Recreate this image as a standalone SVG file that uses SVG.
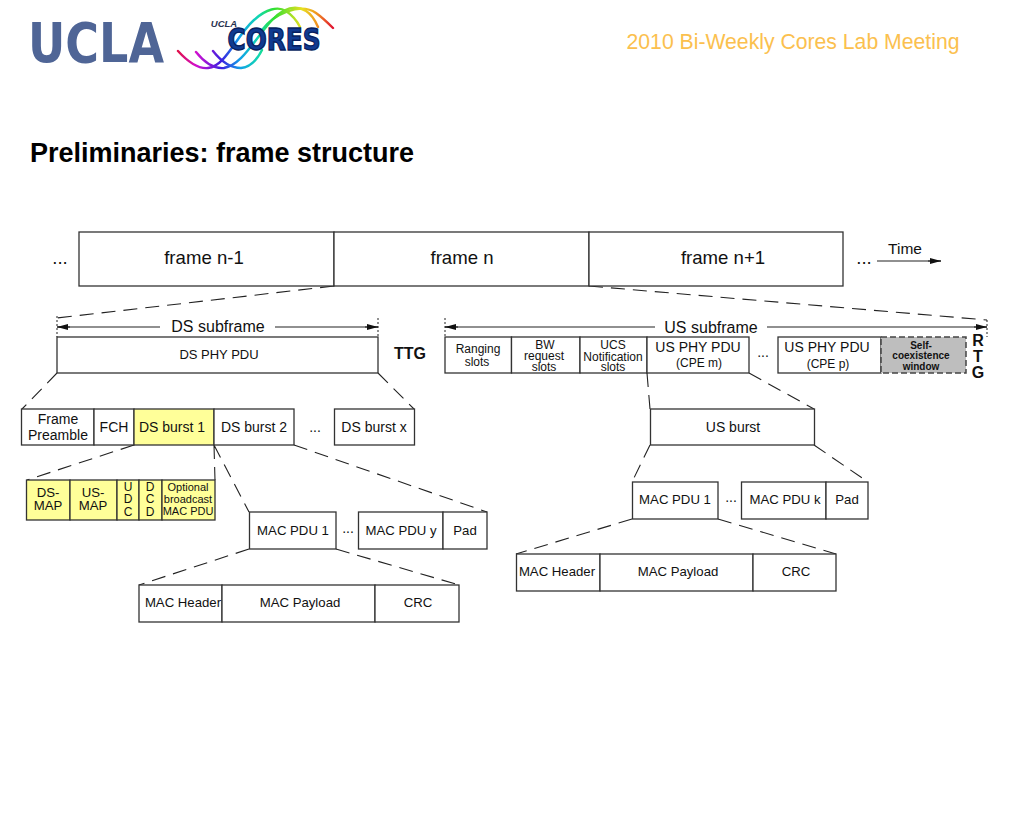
<svg xmlns="http://www.w3.org/2000/svg" width="1024" height="819" viewBox="0 0 1024 819">
<style>
text{font-family:"Liberation Sans",Arial,sans-serif;fill:#111;text-anchor:middle}
.b{fill:#fff;stroke:#333;stroke-width:1.3}
.y{fill:#ffff99;stroke:#333;stroke-width:1.3}
.g{fill:#bebebe;stroke:#444;stroke-width:1.5;stroke-dasharray:6 3}
.d{stroke:#222;stroke-width:1.1;stroke-dasharray:14 8;fill:none}
.t{stroke:#222;stroke-width:1;stroke-dasharray:2 2;fill:none}
.a{stroke:#222;stroke-width:1.1;fill:none}
.w{fill:none;stroke:url(#rb);stroke-width:2.4;stroke-linecap:round}
.s12{font-size:12px}.s13{font-size:13.200px}.s14{font-size:14px}.s16{font-size:16px}.s18{font-size:18.600px}.s11{font-size:11px}
.k{font-weight:bold}
</style>
<defs>
<marker id="e" markerWidth="12" markerHeight="8" refX="11" refY="4" orient="auto-start-reverse" markerUnits="userSpaceOnUse"><path d="M0 1L11 4L0 7Z" fill="#111"/></marker>
<linearGradient id="rb" gradientUnits="userSpaceOnUse" x1="178" x2="333" y1="0" y2="0"><stop offset="0" stop-color="#e0104a"/><stop offset=".12" stop-color="#d010d0"/><stop offset=".28" stop-color="#3a20e0"/><stop offset=".4" stop-color="#10a0e8"/><stop offset=".52" stop-color="#10d8b0"/><stop offset=".62" stop-color="#30e030"/><stop offset=".8" stop-color="#e8e020"/><stop offset=".9" stop-color="#f09020"/><stop offset="1" stop-color="#e01030"/></linearGradient>
</defs>
<g id="logos">
<text x="96" y="62" font-size="56" font-weight="bold" textLength="136" lengthAdjust="spacingAndGlyphs" style="fill:#4f6596;font-family:'DejaVu Sans',sans-serif">UCLA</text>
<path class="w" d="M178 51C188 62 198 69 208 68C226 66 236 36 254 20C266 9 278 6 286 11C292 15 297 21 300 27"/>
<path class="w" d="M196 52C204 62 214 69 224 68C242 65 254 40 272 20C284 8 296 5 306 11C311 14 315 20 318 27"/>
<path class="w" d="M213 51C220 60 230 68 241 68C252 67 258 58 262 50M262 30C274 14 300 2 316 13C323 18 329 24 333 28"/>
<text x="224" y="27" font-size="9.500" font-weight="bold" font-style="italic" style="fill:#2a3350">UCLA</text>
<text x="274" y="50" font-size="30" font-weight="bold" textLength="93" lengthAdjust="spacingAndGlyphs" style="fill:#0f3a90;stroke:#071f60;stroke-width:1.400;font-family:'DejaVu Sans',sans-serif">CORES</text>
</g>
<text id="meeting" x="793" y="49" font-size="21.200" style="fill:#fbc04e">2010 Bi-Weekly Cores Lab Meeting</text>
<text id="title" x="222" y="162" font-size="27" font-weight="bold" style="fill:#000">Preliminaries: frame structure</text>

<g id="connectors">
<path class="d" d="M334 286L57 318M589 286L987 320M57 373L22 409M378 373L414 409M134 445L27 480M214 445L215 480M214 445L249 512M294 445L487 512M249 549L139 585M336 549L459 585M647 373L650 409M749 373L814 409M650 445L632 482M814 445L868 482M632 519L516 554M718 519L836 554"/>
<path class="t" d="M57 316V337M378 318V337M445 318V337M987 320V337"/>
<path class="a" d="M57 327H160M275 327H378M445 327H655M767 327H987M877 261H941" />
<path class="a" marker-start="url(#e)" d="M57 327H70"/>
<path class="a" marker-end="url(#e)" d="M365 327H378"/>
<path class="a" marker-start="url(#e)" d="M445 327H458"/>
<path class="a" marker-end="url(#e)" d="M974 327H987"/>
<path class="a" marker-end="url(#e)" d="M928 261H941"/>
</g>

<g id="frames">
<rect class="b" x="79" y="232" width="255" height="54"/><rect class="b" x="334" y="232" width="255" height="54"/><rect class="b" x="589" y="232" width="254" height="54"/>
<text class="s18" x="204" y="264">frame n-1</text><text class="s18" x="462" y="264">frame n</text><text class="s18" x="723" y="264">frame n+1</text>
<text class="s18" x="60" y="264">...</text><text class="s18" x="864" y="264">...</text>
<text x="905" y="254" font-size="15.500">Time</text>
</g>
<g id="ds-subframe">
<text class="s16" x="218" y="332">DS subframe</text>
<rect class="b" x="57" y="337" width="321" height="36"/>
<text x="219" y="359" font-size="13">DS PHY PDU</text>
<text class="k s16" x="410" y="359">TTG</text>
</g>
<g id="ds-row">
<rect class="b" x="21.500" y="409" width="72.500" height="36"/><rect class="b" x="94" y="409" width="40" height="36"/><rect class="y" x="134" y="409" width="80" height="36"/><rect class="b" x="214" y="409" width="80" height="36"/><rect class="b" x="334.500" y="409" width="80" height="36"/>
<text class="s14" x="58" y="424">Frame</text><text class="s14" x="58" y="440">Preamble</text>
<text class="s14" x="114" y="432">FCH</text><text class="s14" x="172" y="432">DS burst 1</text><text class="s14" x="254" y="432">DS burst 2</text><text class="s14" x="315" y="432">...</text><text class="s14" x="374" y="432">DS burst x</text>
</g>
<g id="ds-map">
<rect class="y" x="26.500" y="480" width="43.500" height="40"/><rect class="y" x="70" y="480" width="47" height="40"/><rect class="y" x="117" y="480" width="22" height="40"/><rect class="y" x="139" y="480" width="23" height="40"/><rect class="y" x="162" y="480" width="53" height="40"/>
<text class="s13" x="48" y="497">DS-</text><text class="s13" x="48" y="510">MAP</text>
<text class="s13" x="93" y="497">US-</text><text class="s13" x="93" y="510">MAP</text>
<text class="s12" x="128" y="491">U</text><text class="s12" x="128" y="503">D</text><text class="s12" x="128" y="516">C</text>
<text class="s12" x="150" y="491">D</text><text class="s12" x="150" y="503">C</text><text class="s12" x="150" y="516">D</text>
<text class="s11" x="188" y="491">Optional</text><text class="s11" x="188" y="503">broadcast</text><text class="s11" x="188" y="515">MAC PDU</text>
</g>
<g id="ds-mac">
<rect class="b" x="249.500" y="512" width="86.500" height="37"/><rect class="b" x="358.500" y="512" width="84.500" height="37"/><rect class="b" x="443" y="512" width="44" height="37"/>
<text class="s13" x="293" y="535">MAC PDU 1</text><text class="s14" x="348" y="533">...</text><text class="s13" x="401" y="535">MAC PDU y</text><text class="s13" x="465" y="535">Pad</text>
<rect class="b" x="139" y="585" width="83" height="37"/><rect class="b" x="222" y="585" width="153" height="37"/><rect class="b" x="375" y="585" width="84" height="37"/>
<text class="s13" x="183" y="607">MAC Header</text><text class="s13" x="300" y="607">MAC Payload</text><text class="s13" x="418" y="607">CRC</text>
</g>
<g id="us-subframe">
<text class="s16" x="711" y="333">US subframe</text>
<rect class="b" x="445" y="337" width="66.500" height="36"/><rect class="b" x="511.500" y="337" width="68.500" height="36"/><rect class="b" x="580" y="337" width="67" height="36"/><rect class="b" x="647" y="337" width="102" height="36"/><rect class="b" x="778" y="337" width="103" height="36"/><rect class="g" x="881" y="337" width="85" height="36"/>
<text class="s12" x="478" y="353">Ranging</text><text class="s12" x="477" y="366">slots</text>
<text class="s12" x="545" y="349">BW</text><text class="s12" x="544" y="360">request</text><text class="s12" x="544" y="371">slots</text>
<text class="s12" x="613" y="349">UCS</text><text class="s12" x="613" y="361">Notification</text><text class="s12" x="613" y="371">slots</text>
<text class="s14" x="698" y="352">US PHY PDU</text><text class="s12" x="699" y="367">(CPE m)</text>
<text class="s14" x="763" y="357">...</text>
<text class="s14" x="827" y="352">US PHY PDU</text><text class="s12" x="828" y="368">(CPE p)</text>
<text class="k" font-size="10" x="921" y="349">Self-</text><text class="k" font-size="10" x="921" y="359">coexistence</text><text class="k" font-size="10" x="921" y="370">window</text>
<text class="k s16" x="978" y="346">R</text><text class="k s16" x="978" y="362">T</text><text class="k s16" x="978" y="378">G</text>
</g>
<g id="us-burst">
<rect class="b" x="650.500" y="409" width="164" height="36"/>
<text class="s14" x="733" y="432">US burst</text>
<rect class="b" x="632.500" y="482" width="85.500" height="37"/><rect class="b" x="741.500" y="482" width="84.500" height="37"/><rect class="b" x="826" y="482" width="42" height="37"/>
<text class="s13" x="675" y="504">MAC PDU 1</text><text class="s14" x="731" y="502">...</text><text class="s13" x="785" y="504">MAC PDU k</text><text class="s13" x="847" y="504">Pad</text>
<rect class="b" x="516.500" y="554" width="83.500" height="37"/><rect class="b" x="600" y="554" width="153" height="37"/><rect class="b" x="753" y="554" width="83" height="37"/>
<text class="s13" x="557" y="576">MAC Header</text><text class="s13" x="678" y="576">MAC Payload</text><text class="s13" x="796" y="576">CRC</text>
</g>
</svg>
